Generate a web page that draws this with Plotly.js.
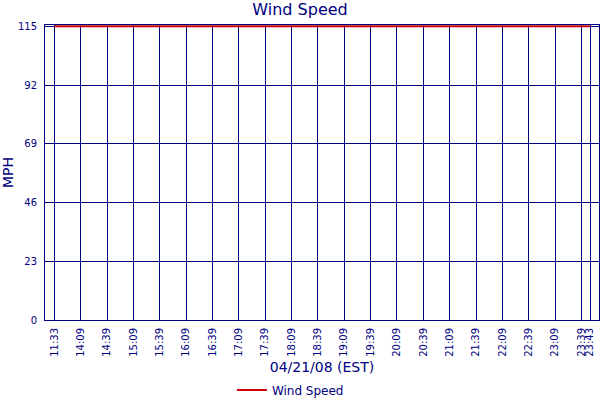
<!DOCTYPE html>
<html>
<head>
<meta charset="utf-8">
<script src="https://cdn.plot.ly/plotly-3.0.1.min.js"></script>
<style>html,body{margin:0;padding:0;background:#fff;}#chart{width:600px;height:400px;}</style>
</head>
<body>
<div id="chart"></div>
<script>
// Sample index of each reading (one reading every ~10 minutes, with labelled ones below)
var sampleIndex = [0,1,2,3,4,5,6,7,8,9,10,11,12,13,14,15,16,17,18,19,20,21,22,23,24,25,26,27,28,29,30,31,32,33,34,35,36,37,38,39,40,41,42,43,44,45,46,47,48,49,50,51,52,53,54,55,56,57,58,59,60,61];
var windSpeed = [115,115,115,115,115,115,115,115,115,115,115,115,115,115,115,115,115,115,115,115,115,115,115,115,115,115,115,115,115,115,115,115,115,115,115,115,115,115,115,115,115,115,115,115,115,115,115,115,115,115,115,115,115,115,115,115,115,115,115,115,115,115];
var tickIndex = [0,3,6,9,12,15,18,21,24,27,30,33,36,39,42,45,48,51,54,57,60,61];
var tickLabels = ["11:33","14:09","14:39","15:09","15:39","16:09","16:39","17:09","17:39","18:09","18:39","19:09","19:39","20:09","20:39","21:09","21:39","22:09","22:39","23:09","23:39","23:43"];
var yTicks = [0,23,46,69,92,115];

var navy = '#000080';
var font = 'DejaVu Sans, Verdana, sans-serif';

var trace = {
  x: sampleIndex,
  y: windSpeed,
  type: 'scatter',
  mode: 'lines',
  name: 'Wind Speed',
  line: {color: '#cc0000', width: 2},
  cliponaxis: false
};

var layout = {
  width: 600, height: 400,
  paper_bgcolor: '#fff', plot_bgcolor: '#fff',
  margin: {l: 45, r: 1, t: 25, b: 80},
  font: {family: font, color: navy},
  title: {text: 'Wind Speed', font: {family: font, size: 16, color: navy}, x: 0.5, xref: 'container', xanchor: 'center', y: 0.976, yref: 'container', yanchor: 'middle'},
  xaxis: {
    range: [-1.06, 62.0],
    tickmode: 'array', tickvals: tickIndex, ticktext: tickLabels,
    tickangle: -90,
    tickfont: {family: font, size: 10, color: navy},
    showgrid: true, gridcolor: navy, gridwidth: 1,
    showline: true, linecolor: navy, linewidth: 1, mirror: true,
    zeroline: false, ticks: '',
    ticklabelstandoff: 3,
    title: {text: '04/21/08 (EST)', font: {family: font, size: 14, color: navy}, standoff: 6}
  },
  yaxis: {
    range: [0, 115.5],
    tickmode: 'array', tickvals: yTicks,
    tickfont: {family: font, size: 10, color: navy},
    showgrid: true, gridcolor: navy, gridwidth: 1,
    showline: true, linecolor: navy, linewidth: 1, mirror: true,
    zeroline: false, ticks: '',
    ticklabelstandoff: 5,
    title: {text: 'MPH', font: {family: font, size: 14, color: navy}, standoff: 8}
  },
  showlegend: true,
  legend: {orientation: 'h', x: 0.484, xref: 'container', xanchor: 'center', y: 0.025, yref: 'container', yanchor: 'middle', font: {family: font, size: 12, color: navy}, bgcolor: 'rgba(0,0,0,0)'}
};

Plotly.newPlot('chart', [trace], layout, {displayModeBar: false, staticPlot: true});
</script>
</body>
</html>
